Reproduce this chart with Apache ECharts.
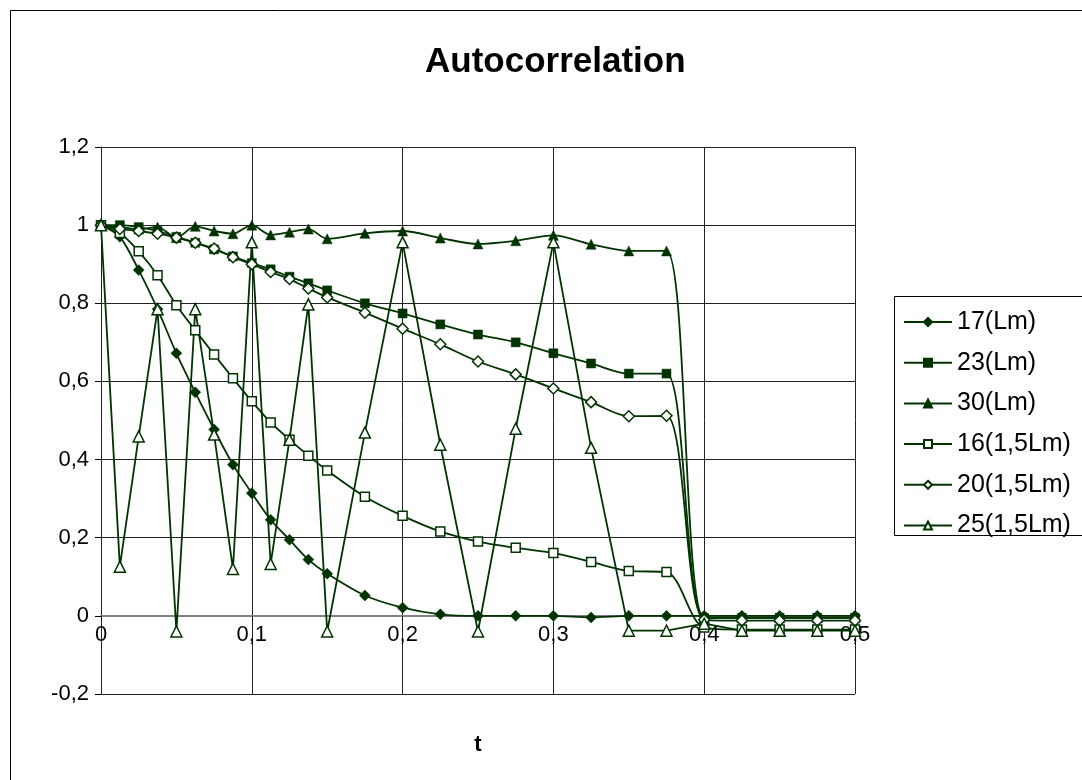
<!DOCTYPE html>
<html>
<head>
<meta charset="utf-8">
<script src="https://cdn.jsdelivr.net/npm/echarts@6/dist/echarts.min.js"></script>
<style>
html,body{margin:0;padding:0;background:#fff;}
#chart{width:1082px;height:780px;}
</style>
</head>
<body>
<div id="chart"></div>
<script>
// ---- data ----
const tValues = [0,0.0125,0.025,0.0375,0.05,0.0625,0.075,0.0875,0.1,0.1125,0.125,0.1375,0.15,0.175,0.2,0.225,0.25,0.275,0.3,0.325,0.35,0.375,0.4,0.425,0.45,0.475,0.5];
const seriesNames = ['17(Lm)','23(Lm)','30(Lm)','16(1,5Lm)','20(1,5Lm)','25(1,5Lm)'];
const s17 = [1,0.97,0.885,0.785,0.672,0.572,0.477,0.387,0.314,0.246,0.195,0.144,0.108,0.052,0.021,0.004,0,0,0,-0.004,0,0,0,0,0,0,0];
const s23 = [1,1.0,0.995,0.985,0.97,0.955,0.938,0.92,0.903,0.887,0.868,0.851,0.833,0.8,0.774,0.746,0.72,0.7,0.672,0.646,0.62,0.62,-0.005,-0.005,-0.005,-0.005,-0.005];
const s30 = [1,0.995,0.99,0.995,0.968,0.997,0.985,0.978,1.0,0.975,0.982,0.99,0.965,0.979,0.985,0.967,0.952,0.96,0.974,0.951,0.934,0.934,-0.005,-0.005,-0.005,-0.005,-0.005];
const s16 = [1,0.98,0.933,0.872,0.795,0.731,0.669,0.608,0.549,0.495,0.451,0.41,0.372,0.305,0.256,0.216,0.19,0.174,0.161,0.138,0.115,0.112,-0.03,-0.035,-0.035,-0.035,-0.035];
const s20 = [1,0.99,0.985,0.978,0.968,0.955,0.94,0.918,0.9,0.88,0.862,0.838,0.815,0.776,0.735,0.695,0.651,0.618,0.582,0.547,0.511,0.512,-0.01,-0.012,-0.012,-0.012,-0.012];
const s25 = [1,0.126,0.459,0.785,-0.04,0.785,0.464,0.12,0.956,0.133,0.451,0.797,-0.04,0.469,0.956,0.438,-0.04,0.479,0.956,0.43,-0.038,-0.038,-0.02,-0.038,-0.038,-0.038,-0.038];
const yTickValues = [-0.2,0,0.2,0.4,0.6,0.8,1,1.2];
const yTickLabels = ['-0,2','0','0,2','0,4','0,6','0,8','1','1,2'];
const xTickValues = [0,0.1,0.2,0.3,0.4,0.5];
const xTickLabels = ['0','0,1','0,2','0,3','0,4','0,5'];

// ---- styling ----
const G = '#003300';
const FONT = '"Liberation Sans", Arial, sans-serif';
function lookup(vals, labels){
  return function(v){
    const i = vals.findIndex(t => Math.abs(t - v) < 1e-9);
    return i >= 0 ? labels[i] : '';
  };
}
function mk(name, vals, symbol, filled, size, smooth){
  return {
    type:'line', name: name,
    data: tValues.map((t,i)=>[t, vals[i]]),
    smooth: smooth,
    symbol: symbol, symbolSize: size,
    lineStyle:{color:G, width:1.8},
    itemStyle: filled ? {color:G, borderColor:G, borderWidth:0.5} : {color:'#ffffff', borderColor:G, borderWidth:1.5},
    emphasis:{disabled:true},
    animation:false
  };
}

const chart = echarts.init(document.getElementById('chart'), null, {renderer:'canvas'});
chart.setOption({
  backgroundColor:'#ffffff',
  animation:false,
  title:{
    text:'Autocorrelation', left:420, top:40,
    textStyle:{fontFamily:FONT, fontWeight:'bold', fontSize:35, color:'#000'}
  },
  grid:{left:101, right:227, top:147, bottom:86, containLabel:false, outerBoundsMode:'none'},
  xAxis:{
    type:'value', min:0, max:0.5, interval:0.1,
    offset:-78,
    name:'t', nameLocation:'middle', nameGap:118,
    nameTextStyle:{fontFamily:FONT, fontWeight:'bold', fontSize:22, color:'#000'},
    axisLine:{show:true, onZero:false, lineStyle:{color:'#808080', width:2}},
    axisTick:{show:true, length:5, lineStyle:{color:'#000'}},
    axisLabel:{formatter: lookup(xTickValues, xTickLabels), fontFamily:FONT, fontSize:22, color:'#000', margin:8},
    splitLine:{show:true, lineStyle:{color:'#222', width:1}}
  },
  yAxis:{
    type:'value', min:-0.2, max:1.2, interval:0.2,
    axisLine:{show:true, onZero:false, lineStyle:{color:'#222', width:1}},
    axisTick:{show:true, length:6, lineStyle:{color:'#000'}},
    axisLabel:{formatter: lookup(yTickValues, yTickLabels), fontFamily:FONT, fontSize:22, color:'#000', margin:12},
    splitLine:{show:true, lineStyle:{color:'#222', width:1}}
  },
  legend:{
    orient:'vertical', left:903, top:307, padding:0,
    itemWidth:48, itemHeight:10, itemGap:10.7,
    textStyle:{fontFamily:FONT, fontSize:25, color:'#000', lineHeight:30},
    data: seriesNames
  },
  graphic:[
    {type:'rect', shape:{x:10.5, y:10.5, width:1090, height:790}, style:{fill:null, stroke:'#000', lineWidth:1}, silent:true},
    {type:'rect', shape:{x:894.5, y:296.5, width:200, height:239}, style:{fill:null, stroke:'#000', lineWidth:1}, silent:true}
  ],
  series:[
    mk(seriesNames[0], s17, 'diamond', true, 11, 0.3),
    mk(seriesNames[1], s23, 'rect', true, 9, 0.3),
    mk(seriesNames[2], s30, 'triangle', true, 10, 0.3),
    mk(seriesNames[3], s16, 'rect', false, 9, 0.3),
    mk(seriesNames[4], s20, 'diamond', false, 11, 0.3),
    mk(seriesNames[5], s25, 'triangle', false, 11, false)
  ]
});
</script>
</body>
</html>
